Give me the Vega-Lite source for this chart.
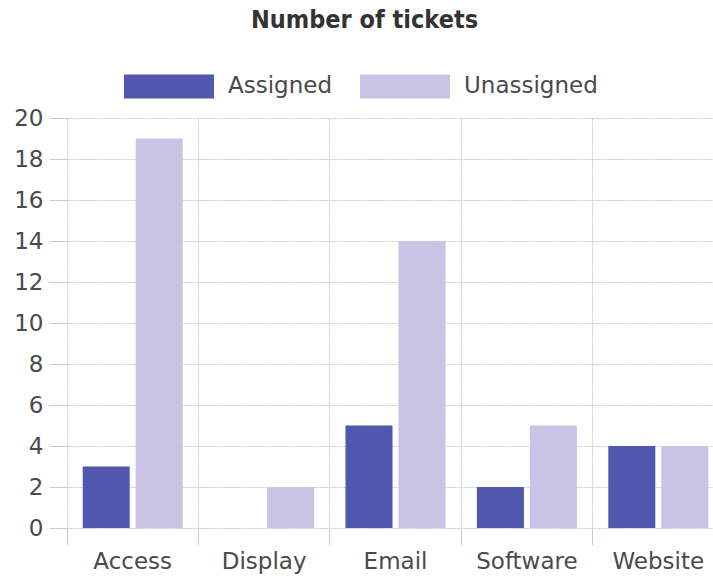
{
  "$schema": "https://vega.github.io/schema/vega-lite/v6.json",
  "autosize": {"type": "none"},
  "padding": {"left": 67, "top": 118, "right": 0, "bottom": 49},
  "width": 657,
  "height": 410,
  "background": "white",
  "title": {
    "text": "Number of tickets",
    "anchor": "middle",
    "frame": "group",
    "dx": -31,
    "offset": 8,
    "font": "DejaVu Sans Condensed",
    "fontSize": 25,
    "fontWeight": "bold",
    "color": "#333333"
  },
  "data": {
    "values": [
      {"category": "Access", "status": "Assigned", "tickets": 3},
      {"category": "Access", "status": "Unassigned", "tickets": 19},
      {"category": "Display", "status": "Assigned", "tickets": 0},
      {"category": "Display", "status": "Unassigned", "tickets": 2},
      {"category": "Email", "status": "Assigned", "tickets": 5},
      {"category": "Email", "status": "Unassigned", "tickets": 14},
      {"category": "Software", "status": "Assigned", "tickets": 2},
      {"category": "Software", "status": "Unassigned", "tickets": 5},
      {"category": "Website", "status": "Assigned", "tickets": 4},
      {"category": "Website", "status": "Unassigned", "tickets": 4}
    ]
  },
  "mark": {"type": "bar"},
  "encoding": {
    "x": {
      "field": "category",
      "type": "nominal",
      "sort": ["Access", "Display", "Email", "Software", "Website"],
      "scale": {"paddingInner": 0, "paddingOuter": 0},
      "axis": {
        "title": null,
        "bandPosition": 0,
        "labelAngle": 0,
        "labelFont": "DejaVu Sans",
        "labelFontSize": 23,
        "labelColor": "#4a4a4a",
        "labelPadding": 5,
        "tickSize": 17,
        "tickColor": "#bfd0dc",
        "domain": false,
        "grid": true,
        "gridColor": "#bfd0dc",
        "gridDash": [2, 1]
      }
    },
    "xOffset": {
      "field": "status",
      "type": "nominal",
      "scale": {"paddingInner": 0.113, "paddingOuter": 0.296}
    },
    "y": {
      "field": "tickets",
      "type": "quantitative",
      "scale": {"domain": [0, 20], "nice": false},
      "axis": {
        "title": null,
        "values": [0, 2, 4, 6, 8, 10, 12, 14, 16, 18, 20],
        "labelFont": "DejaVu Sans",
        "labelFontSize": 23,
        "labelColor": "#4a4a4a",
        "labelPadding": 6,
        "tickSize": 18,
        "tickColor": "#bfd0dc",
        "domain": false,
        "grid": true,
        "gridColor": "#bfd0dc",
        "gridDash": [2, 1]
      }
    },
    "color": {
      "field": "status",
      "type": "nominal",
      "scale": {"domain": ["Assigned", "Unassigned"], "range": ["#5257ae", "#c9c3e5"]},
      "legend": {
        "title": null,
        "orient": "none",
        "direction": "horizontal",
        "legendX": 57,
        "legendY": -77,
        "symbolType": "M-1,-0.2667H1V0.2667H-1Z",
        "symbolSize": 8100,
        "symbolStrokeWidth": 0,
        "symbolOpacity": 1,
        "labelFont": "DejaVu Sans",
        "labelFontSize": 23,
        "labelColor": "#4a4a4a",
        "labelOffset": 14,
        "columnPadding": 27
      }
    }
  },
  "config": {
    "view": {"stroke": null}
  }
}
